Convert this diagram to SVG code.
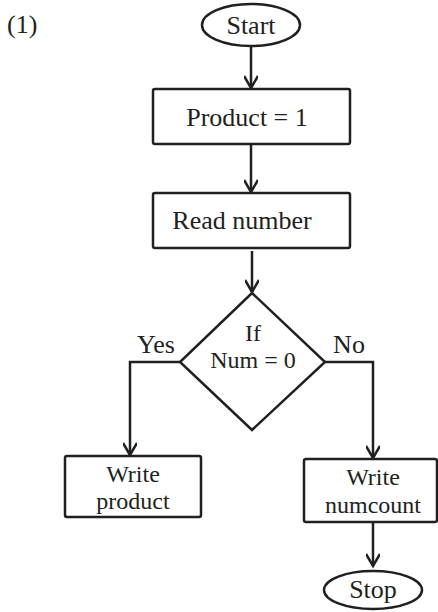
<svg xmlns="http://www.w3.org/2000/svg" width="438" height="612" viewBox="0 0 438 612">
<style>
.s{fill:#fff;stroke:#231f20;stroke-width:2.5;}
.c{fill:none;stroke:#231f20;stroke-width:2.5;}
text{font-family:"Liberation Serif","Times New Roman",serif;font-size:26px;fill:#231f20;}
.m{text-anchor:middle;}
.t{font-size:24px;}
</style>
<defs>
<marker id="ah" markerWidth="18" markerHeight="14" refX="15" refY="7" orient="auto" markerUnits="userSpaceOnUse">
<path d="M3,0 L15,7 L3,14" fill="none" stroke="#231f20" stroke-width="2.5"/>
</marker>
</defs>
<text x="7" y="33">(1)</text>
<g id="connectors">
<line class="c" x1="251" y1="46" x2="251" y2="88" marker-end="url(#ah)"/>
<line class="c" x1="251" y1="144" x2="251" y2="192" marker-end="url(#ah)"/>
<line class="c" x1="252" y1="251" x2="252" y2="292" marker-end="url(#ah)"/>
<polyline class="c" points="180,362 130,362 130,455" marker-end="url(#ah)"/>
<polyline class="c" points="325,362 373,362 373,458" marker-end="url(#ah)"/>
<line class="c" x1="373" y1="522" x2="373" y2="566" marker-end="url(#ah)"/>
<text x="156" y="353" class="m">Yes</text>
<text x="349" y="353" class="m">No</text>
</g>
<g id="start">
<ellipse class="s" cx="251" cy="25" rx="49" ry="21"/>
<text x="251" y="34" class="m">Start</text>
</g>
<g id="product1">
<rect class="s" x="153" y="89" width="197" height="55" rx="2"/>
<text x="247" y="126" class="m">Product = 1</text>
</g>
<g id="read">
<rect class="s" x="153" y="193" width="197" height="55" rx="2"/>
<text x="242" y="229" class="m">Read number</text>
</g>
<g id="decision">
<polygon class="s" points="252,293 325,362 252,430 180,362"/>
<text x="253" y="341" class="m t">If</text>
<text x="253" y="368" class="m t">Num = 0</text>
</g>
<g id="writeproduct">
<rect class="s" x="65" y="456" width="136" height="61" rx="2"/>
<text x="133" y="482" class="m t">Write</text>
<text x="133" y="509" class="m t">product</text>
</g>
<g id="writenumcount">
<rect class="s" x="304" y="459" width="133" height="63" rx="2"/>
<text x="373" y="485" class="m t">Write</text>
<text x="373" y="513" class="m t">numcount</text>
</g>
<g id="stop">
<ellipse class="s" cx="373" cy="590" rx="49" ry="19"/>
<text x="373" y="598" class="m">Stop</text>
</g>
</svg>
